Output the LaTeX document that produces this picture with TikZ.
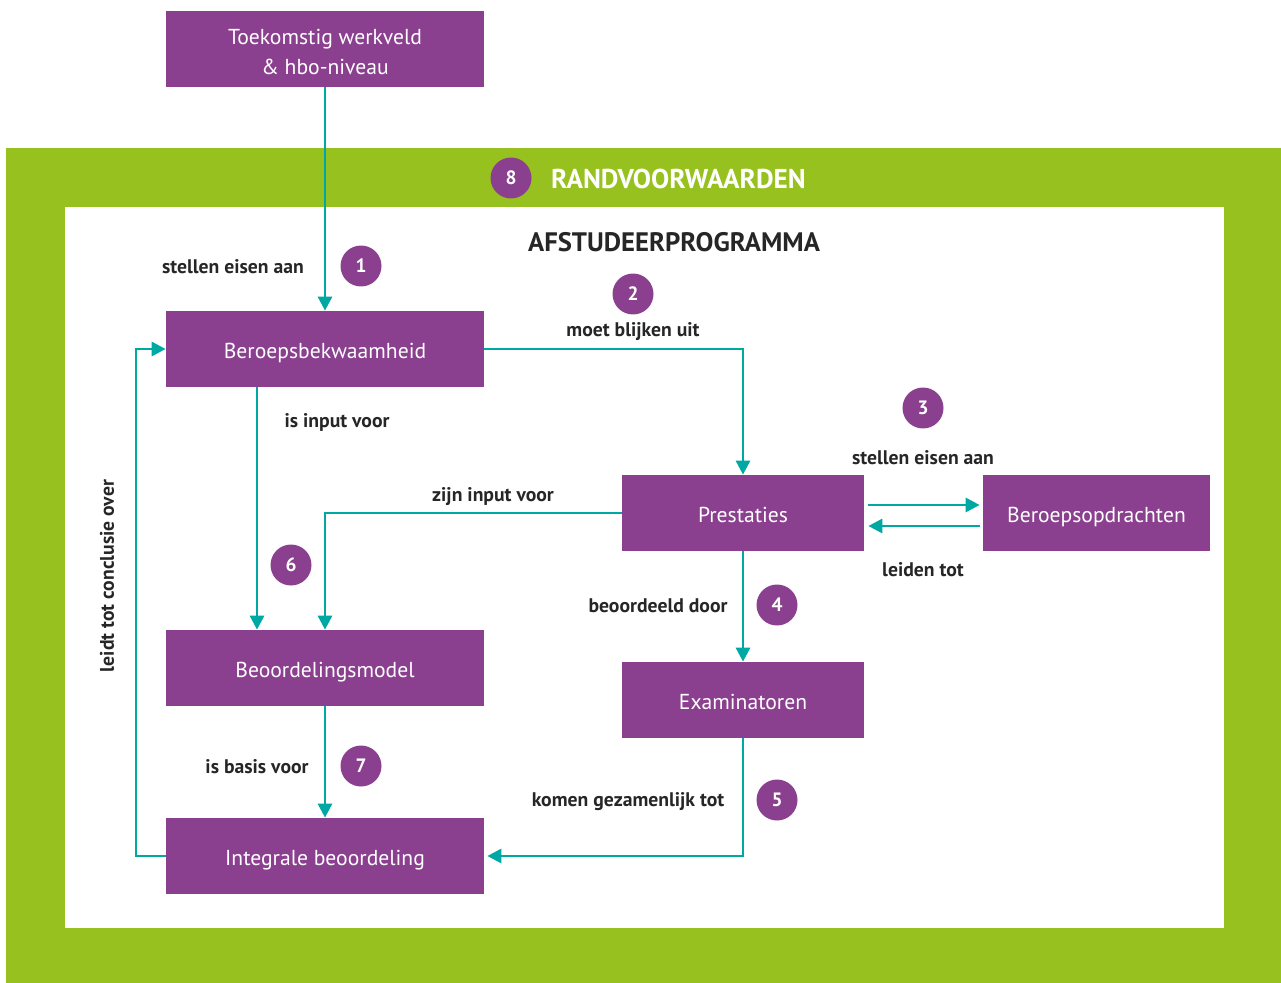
\documentclass[tikz,border=0pt]{standalone}
\usepackage{fontspec}
\setmainfont{PT Sans}
\usetikzlibrary{arrows.meta}
\definecolor{limoen}{HTML}{97C11F}
\definecolor{paars}{HTML}{8B3F8F}
\definecolor{petrol}{HTML}{00A8A4}
\begin{document}
\begin{tikzpicture}[x=0.02cm,y=-0.02cm,
    blok/.style={fill=paars,text=white,minimum width=6.36cm,minimum height=1.52cm,
      inner sep=0pt,align=center,font=\fontsize{12.3}{17}\selectfont,
      text height=0.44cm,text depth=0.08cm},
    nummer/.style={circle,fill=paars,text=white,minimum size=0.82cm,inner sep=0pt,
      font=\bfseries\fontsize{11}{12}\selectfont},
    tekst/.style={font=\bfseries\fontsize{11.2}{13}\selectfont,text=black!85},
    pijl/.style={draw=petrol,line width=1.6pt,-{Triangle[length=8pt,width=8pt]}}]
  \useasboundingbox (0,0) rectangle (1281,983);
  % kader
  \fill[limoen] (6,148) rectangle (1281,983);
  \fill[white] (65,207) rectangle (1224,928);
  \node[anchor=west,text=white,font=\bfseries\fontsize{15.5}{17}\selectfont] (rand) at (545,179) {RANDVOORWAARDEN};
  \node[font=\bfseries\fontsize{15.2}{17}\selectfont,text=black!85] (prog) at (674,242) {AFSTUDEERPROGRAMMA};
  % blokken
  \draw
    (325,49) node[blok,text height=,text depth=] (toekomst){\strut Toekomstig werkveld\\\& hbo-niveau}
    (325,349) node[blok] (bekwaam){Beroepsbekwaamheid}
    (743,513) node[blok,minimum width=4.84cm] (prestaties){Prestaties}
    (1096.5,513) node[blok,minimum width=4.54cm] (opdrachten){Beroepsopdrachten}
    (325,668) node[blok] (model){Beoordelingsmodel}
    (743,700) node[blok,minimum width=4.84cm] (examinatoren){Examinatoren}
    (325,856) node[blok] (integraal){Integrale beoordeling};
  \coordinate (links) at (136,856);
  % nummers
  \draw
    (511,178) node[nummer] (n8){8}
    (361,266) node[nummer] (n1){1}
    (633,294) node[nummer] (n2){2}
    (923,408) node[nummer] (n3){3}
    (777,605) node[nummer] (n4){4}
    (777,800) node[nummer] (n5){5}
    (291,565) node[nummer] (n6){6}
    (361,766) node[nummer] (n7){7};
  % teksten
  \draw
    (233,267) node[tekst] (t1){stellen eisen aan}
    (633,332) node[tekst] (t2){moet blijken uit}
    (923,458) node[tekst] (t3){stellen eisen aan}
    (923,570) node[tekst] (t3b){leiden tot}
    (658,606) node[tekst] (t4){beoordeeld door}
    (628,802) node[tekst] (t5){komen gezamenlijk tot}
    (337,422) node[tekst] (t6){is input voor}
    (493,497) node[tekst] (t6b){zijn input voor}
    (257,767) node[tekst] (t7){is basis voor}
    (107,576) node[tekst,rotate=90] (t9){leidt tot conclusie over};
  % pijlen
  \begin{scope}[pijl]
    \draw (toekomst) to (bekwaam);
    \draw (bekwaam.east) -| (prestaties);
    \draw ([xshift=-1.36cm]bekwaam.south) to ([xshift=-1.36cm]model.north);
    \draw (prestaties.west) -| (model.north);
    \draw ([xshift=0.08cm,yshift=0.16cm]prestaties.east) to ([xshift=-0.06cm,yshift=0.16cm]opdrachten.west);
    \draw ([xshift=-0.06cm,yshift=-0.26cm]opdrachten.west) to ([xshift=0.08cm,yshift=-0.26cm]prestaties.east);
    \draw (prestaties) to (examinatoren);
    \draw (examinatoren.south) |- ([xshift=0.06cm]integraal.east);
    \draw (model) to (integraal);
    \draw (integraal.west) -- (links) |- (bekwaam.west);
  \end{scope}
\end{tikzpicture}
\end{document}
